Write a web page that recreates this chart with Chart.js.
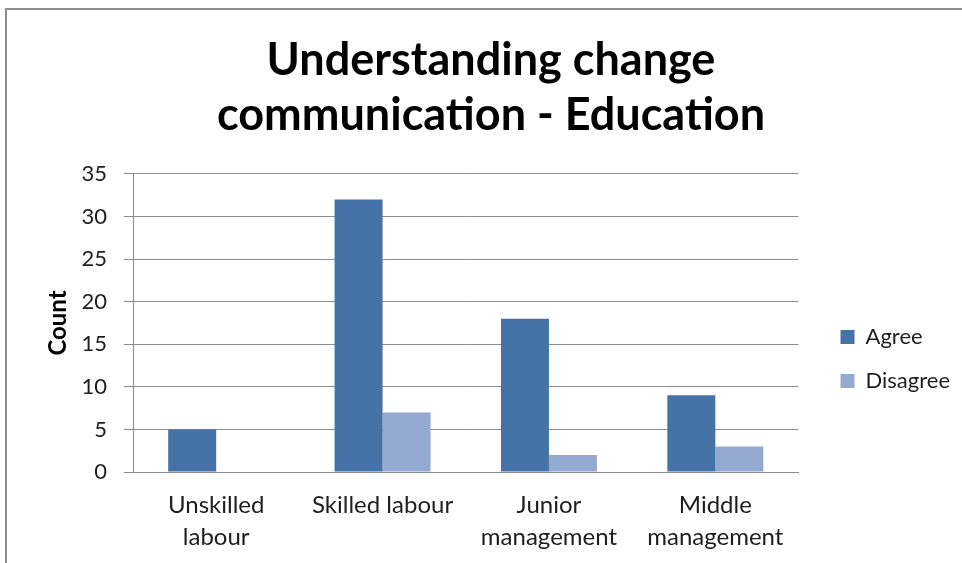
<!DOCTYPE html>
<html>
<head>
<meta charset="utf-8">
<script src="https://cdn.jsdelivr.net/npm/chart.js@4.4.0/dist/chart.umd.min.js"></script>
<style>
  html, body { margin: 0; padding: 0; background: #fff; }
  #wrap { position: relative; width: 962px; height: 563px; overflow: hidden; }
  #frame {
    position: absolute; left: 5px; top: 8px; width: 1000px; height: 600px;
    border-left: 2px solid #8e8e8e; border-top: 2px solid #8e8e8e;
    pointer-events: none;
  }
</style>
</head>
<body>
<div id="wrap">
  <canvas id="chart" width="962" height="563"></canvas>
  <div id="frame"></div>
</div>
<script>
const categories = [['Unskilled', 'labour'], 'Skilled labour', ['Junior', 'management'], ['Middle', 'management']]
const agree = [5, 32, 18, 9]
const disagree = [0, 7, 2, 3]
const yTicks = { min: 0, max: 35, step: 5 }

const gridGray = '#8c8c8c'
const textColor = '#1e1e1e'

// legend sits a little away from the plot, title is centred on the whole frame
const nudgeBoxes = {
  id: 'nudgeBoxes',
  afterLayout(chart) {
    const lg = chart.legend
    if (lg) {
      lg.left += 20
      lg.right += 20
    }
    const tb = chart.titleBlock
    if (tb) {
      tb.left += 21
      tb.right += 21
    }
  }
}

new Chart(document.getElementById('chart').getContext('2d'), {
  type: 'bar',
  data: {
    labels: categories,
    datasets: [
      { label: 'Agree', data: agree, backgroundColor: '#4572a7' },
      { label: 'Disagree', data: disagree, backgroundColor: '#93a9cf' }
    ]
  },
  plugins: [nudgeBoxes],
  options: {
    responsive: false,
    animation: false,
    devicePixelRatio: 1,
    layout: { padding: { top: 0, left: 0, right: 22, bottom: 0 } },
    datasets: {
      bar: { barPercentage: 1, categoryPercentage: 0.577 }
    },
    plugins: {
      title: {
        display: true,
        text: ['Understanding change', 'communication - Education'],
        color: '#000',
        font: { family: 'Lato', size: 45, weight: 'bold', lineHeight: 1.222 },
        padding: { top: 33, bottom: 31 }
      },
      legend: {
        position: 'right',
        title: { display: true, text: '', font: { size: 20, lineHeight: 1.2 }, padding: { top: 131, bottom: 0 } },
        labels: {
          boxWidth: 14,
          boxHeight: 14,
          padding: 22,
          color: textColor,
          font: { family: 'Lato', size: 22 }
        }
      },
      tooltip: { enabled: false }
    },
    scales: {
      x: {
        grid: { display: false, drawTicks: false },
        border: { display: true, color: gridGray, width: 1 },
        ticks: {
          color: textColor,
          padding: 18,
          maxRotation: 0,
          autoSkip: false,
          font: { family: 'Lato', size: 24, lineHeight: 1.3 }
        },
        afterFit(scale) { scale.height = 91 }
      },
      y: {
        min: yTicks.min,
        max: yTicks.max,
        grid: { color: gridGray, lineWidth: 1, tickLength: 9, drawTicks: true },
        border: { display: true, color: gridGray, width: 1 },
        ticks: {
          stepSize: yTicks.step,
          color: textColor,
          padding: 17,
          font: { family: 'Lato', size: 22 }
        },
        title: {
          display: true,
          text: 'Count',
          color: '#000',
          font: { family: 'Lato', size: 24, weight: 'bold', lineHeight: 1.2 },
          padding: { top: 44, bottom: 0 }
        },
        afterFit(scale) { scale.width = 133 }
      }
    }
  }
})
</script>
</body>
</html>
